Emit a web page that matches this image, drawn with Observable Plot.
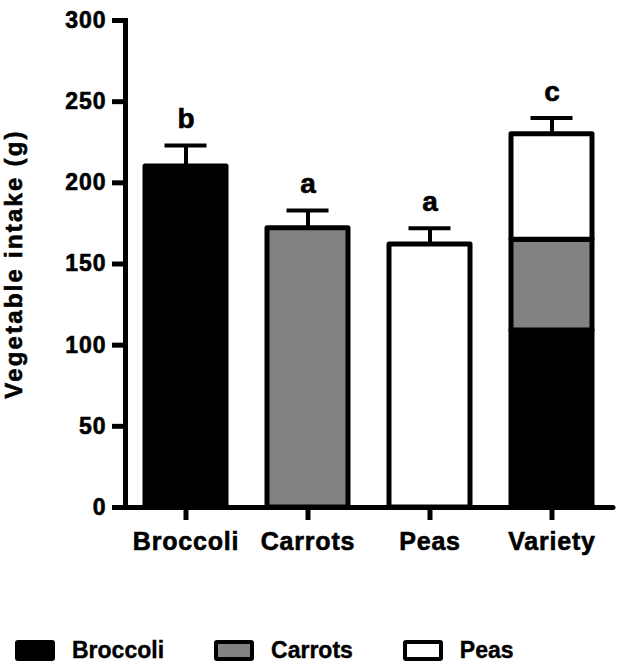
<!DOCTYPE html>
<html>
<head>
<meta charset="utf-8">
<script src="https://cdn.jsdelivr.net/npm/d3@7"></script>
<script src="https://cdn.jsdelivr.net/npm/@observablehq/plot@0.6"></script>
<style>
  html, body { margin: 0; padding: 0; background: white; }
  body { width: 624px; height: 667px; overflow: hidden; font-family: "Liberation Sans", Arial, sans-serif; }
  #chart svg text { stroke: black; stroke-width: 0.6px; paint-order: stroke; }
  #chart svg [aria-label="y-axis tick label"] text { letter-spacing: 1px; }
  #chart svg [aria-label="x-axis tick label"] text { letter-spacing: 0.8px; }
  #chart svg [aria-label="y-axis label"] text { letter-spacing: 2.2px; }
  #legend { display: flex; align-items: center; gap: 50px; padding-left: 15px; margin-top: 37px; }
  #legend .item { display: flex; align-items: center; gap: 17px; }
  #legend .sw { width: 40px; height: 21px; box-sizing: border-box; border: 4px solid black; border-radius: 3px; }
  #legend .lab { font-size: 23px; font-weight: bold; color: black; -webkit-text-stroke: 0.4px black; }
</style>
</head>
<body>
<div id="chart"></div>
<div id="legend"></div>
<script>
// Data
const groups = ["Broccoli", "Carrots", "Peas", "Variety"];
const means = [210, 172, 162, 230];
const sems = [13, 11, 10, 10];
const letters = ["b", "a", "a", "c"];
const vegetables = ["Broccoli", "Carrots", "Peas"];
const vegColors = ["black", "#828282", "white"];
const varietyParts = [109, 56, 65]; // Broccoli, Carrots, Peas within "Variety"
const yTicks = [0, 50, 100, 150, 200, 250, 300];

// Segments for stacked bars
const segments = [];
groups.forEach((g, i) => {
  if (g === "Variety") {
    vegetables.forEach((v, j) => segments.push({group: g, veg: v, value: varietyParts[j]}));
  } else {
    segments.push({group: g, veg: g, value: means[i]});
  }
});
const summary = groups.map((g, i) => ({group: g, mean: means[i], top: means[i] + sems[i], letter: letters[i]}));

const plot = Plot.plot({
  width: 624,
  height: 600,
  marginLeft: 125,
  marginRight: 11,
  marginTop: 20,
  marginBottom: 93,
  style: {fontFamily: '"Liberation Sans", Arial, sans-serif', fontWeight: "bold", fontSize: "22px", color: "black", background: "white"},
  x: {domain: groups, paddingInner: 0.336, paddingOuter: 0.168, align: 0.5},
  y: {domain: [0, 300]},
  color: {domain: vegetables, range: vegColors},
  marks: [
    Plot.ruleX(summary, {x: "group", y1: "mean", y2: "top", stroke: "black", strokeWidth: 4}),
    Plot.tickY(summary, {x: "group", y: "top", stroke: "black", strokeWidth: 4, insetLeft: 19.5, insetRight: 19.5}),
    Plot.barY(segments, {x: "group", y: "value", fill: "veg", stroke: "black", strokeWidth: 5, strokeLinejoin: "round"}),
    Plot.text(summary, {x: "group", y: "top", text: "letter", fontSize: 28, fontWeight: "bold", fill: "black", lineAnchor: "bottom", dy: -17}),
    Plot.axisY({ticks: yTicks, tickSize: 13, tickPadding: 6, strokeWidth: 5, fontSize: 23, fontWeight: "bold", label: "Vegetable intake (g)", labelAnchor: "center", labelArrow: "none", labelOffset: 121, labelFontSize: 24}),
    Plot.axisX({tickSize: 13, tickPadding: 12, strokeWidth: 5, fontSize: 25, fontWeight: "bold", label: null}),
    Plot.frame({anchor: "left", stroke: "black", strokeWidth: 5}),
    Plot.ruleY([0], {stroke: "black", strokeWidth: 5, strokeLinecap: "round"})
  ]
});
document.getElementById("chart").appendChild(plot);
// y-axis label slightly larger than tick labels
plot.querySelectorAll('[aria-label="y-axis label"] text').forEach(t => t.setAttribute("font-size", 24));

// Legend
const legend = document.getElementById("legend");
vegetables.forEach((v, i) => {
  const item = document.createElement("div");
  item.className = "item";
  const sw = document.createElement("div");
  sw.className = "sw";
  sw.style.background = vegColors[i];
  const lab = document.createElement("span");
  lab.className = "lab";
  lab.textContent = v;
  item.appendChild(sw);
  item.appendChild(lab);
  legend.appendChild(item);
});
</script>
</body>
</html>
